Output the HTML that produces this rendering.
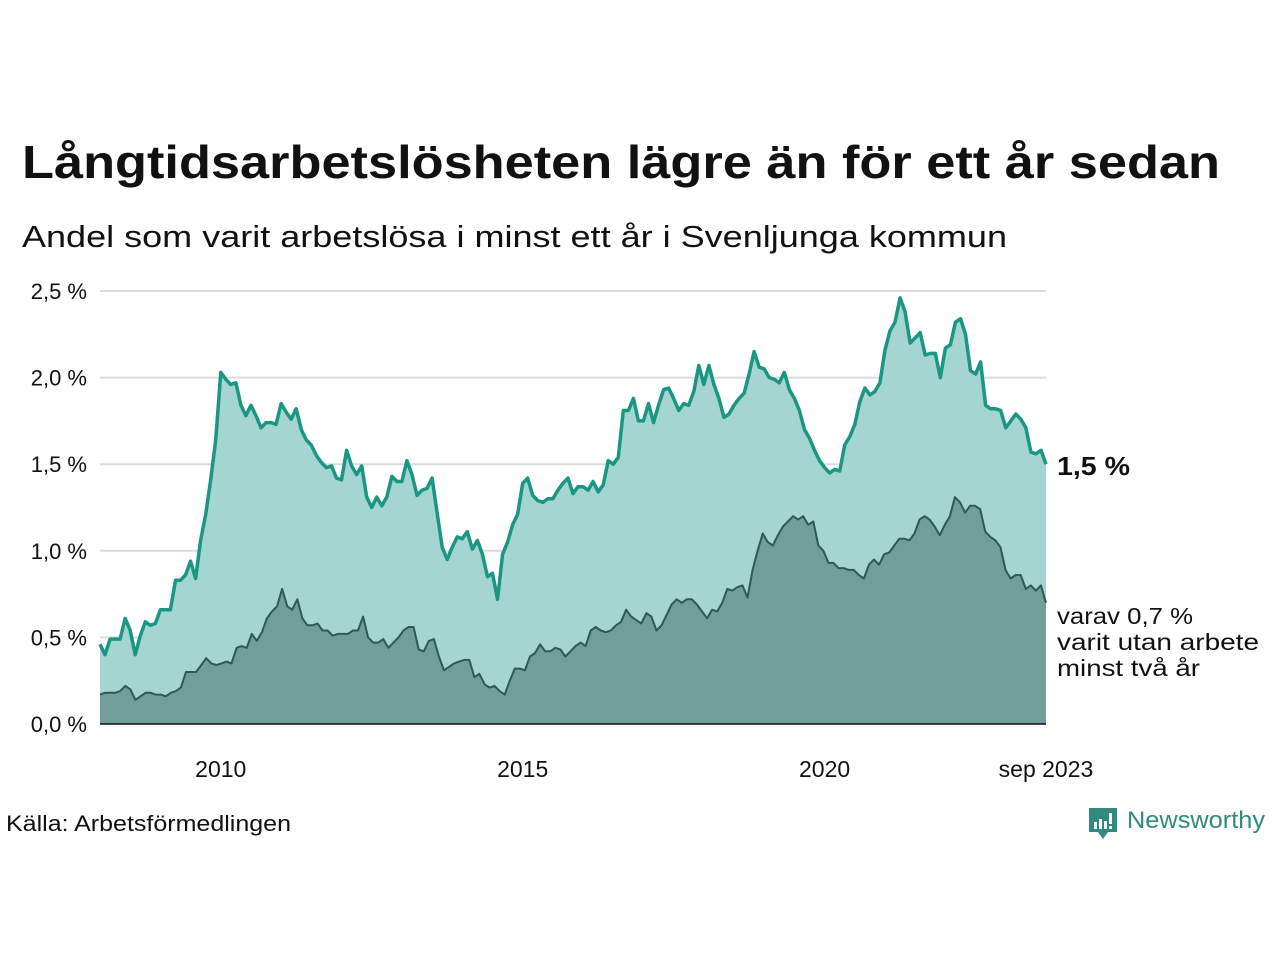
<!DOCTYPE html>
<html><head><meta charset="utf-8"><style>
body{margin:0;background:#fff;}
svg{display:block;font-family:"Liberation Sans","DejaVu Sans",sans-serif;}
</style></head><body>
<svg id="chart" width="1280" height="960" viewBox="0 0 1280 960">
<text x="22" y="178" font-size="46" font-weight="bold" fill="#111" textLength="1198" lengthAdjust="spacingAndGlyphs">Långtidsarbetslösheten lägre än för ett år sedan</text>
<text x="22" y="247" font-size="31" fill="#111" textLength="985" lengthAdjust="spacingAndGlyphs">Andel som varit arbetslösa i minst ett år i Svenljunga kommun</text>
<g id="grid"></g>
<g id="areas"></g>
<g id="yticks"></g>
<g id="xticks"></g>
<text x="1057" y="475" font-size="26" font-weight="bold" fill="#111" textLength="73" lengthAdjust="spacingAndGlyphs">1,5 %</text>
<text font-size="23" fill="#111"><tspan x="1057" y="624" textLength="136" lengthAdjust="spacingAndGlyphs">varav 0,7 %</tspan><tspan x="1057" y="650" textLength="202" lengthAdjust="spacingAndGlyphs">varit utan arbete</tspan><tspan x="1057" y="676" textLength="143" lengthAdjust="spacingAndGlyphs">minst två år</tspan></text>
<text x="6" y="831" font-size="22" fill="#111" textLength="285" lengthAdjust="spacingAndGlyphs">Källa: Arbetsförmedlingen</text>
<g>
<path d="M1089 808h28v24h-9l-5 7-5-7h-9z" fill="#2e8b7e"/>
<rect x="1094" y="822" width="3" height="7" fill="#fff"/><rect x="1099" y="819" width="3" height="10" fill="#fff"/><rect x="1104" y="821" width="3" height="8" fill="#fff"/><rect x="1109" y="813" width="3" height="11" fill="#fff"/><rect x="1109" y="826" width="3" height="3" fill="#fff"/>
<text x="1127" y="828" font-size="24" fill="#2e8b7e" textLength="138" lengthAdjust="spacingAndGlyphs">Newsworthy</text>
</g>
</svg>
<script>
const yTicks=[0,0.5,1.0,1.5,2.0,2.5];
const yTickLabels=["0,0 %","0,5 %","1,0 %","1,5 %","2,0 %","2,5 %"];
const xTickMonths=[24,84,144,188];
const xTickLabels=["2010","2015","2020","sep 2023"];
const longTerm=[0.46,0.40,0.49,0.49,0.49,0.61,0.54,0.40,0.51,0.59,0.57,0.58,0.66,0.66,0.66,0.83,0.83,0.86,0.94,0.84,1.06,1.21,1.41,1.64,2.03,1.99,1.96,1.97,1.84,1.78,1.84,1.78,1.71,1.74,1.74,1.73,1.85,1.80,1.76,1.82,1.70,1.64,1.61,1.55,1.51,1.48,1.49,1.42,1.41,1.58,1.49,1.44,1.49,1.31,1.25,1.31,1.26,1.31,1.43,1.40,1.40,1.52,1.44,1.32,1.35,1.36,1.42,1.22,1.02,0.95,1.02,1.08,1.07,1.11,1.01,1.06,0.98,0.85,0.87,0.72,0.98,1.05,1.15,1.21,1.39,1.42,1.32,1.29,1.28,1.30,1.30,1.35,1.39,1.42,1.33,1.37,1.37,1.35,1.40,1.34,1.38,1.52,1.50,1.54,1.81,1.81,1.88,1.75,1.75,1.85,1.74,1.84,1.93,1.94,1.88,1.81,1.85,1.84,1.92,2.07,1.96,2.07,1.96,1.88,1.77,1.79,1.84,1.88,1.91,2.02,2.15,2.06,2.05,2.00,1.99,1.97,2.03,1.93,1.88,1.81,1.70,1.65,1.58,1.52,1.48,1.45,1.47,1.46,1.61,1.66,1.73,1.86,1.94,1.90,1.92,1.97,2.16,2.27,2.32,2.46,2.38,2.20,2.23,2.26,2.13,2.14,2.14,2.00,2.17,2.19,2.32,2.34,2.25,2.04,2.02,2.09,1.84,1.82,1.82,1.81,1.71,1.75,1.79,1.76,1.71,1.57,1.56,1.58,1.50];
const veryLongTerm=[0.17,0.18,0.18,0.18,0.19,0.22,0.20,0.14,0.16,0.18,0.18,0.17,0.17,0.16,0.18,0.19,0.21,0.30,0.30,0.30,0.34,0.38,0.35,0.34,0.35,0.36,0.35,0.44,0.45,0.44,0.52,0.48,0.53,0.61,0.65,0.68,0.78,0.68,0.66,0.72,0.61,0.57,0.57,0.58,0.54,0.54,0.51,0.52,0.52,0.52,0.54,0.54,0.62,0.50,0.47,0.47,0.49,0.44,0.47,0.50,0.54,0.56,0.56,0.43,0.42,0.48,0.49,0.39,0.31,0.33,0.35,0.36,0.37,0.37,0.27,0.29,0.23,0.21,0.22,0.19,0.17,0.25,0.32,0.32,0.31,0.39,0.41,0.46,0.42,0.42,0.44,0.43,0.39,0.42,0.45,0.47,0.45,0.54,0.56,0.54,0.53,0.54,0.57,0.59,0.66,0.62,0.60,0.58,0.64,0.62,0.54,0.57,0.63,0.69,0.72,0.70,0.72,0.72,0.69,0.65,0.61,0.66,0.65,0.70,0.78,0.77,0.79,0.80,0.73,0.89,1.00,1.10,1.05,1.03,1.09,1.14,1.17,1.20,1.18,1.20,1.15,1.17,1.03,1.00,0.93,0.93,0.90,0.90,0.89,0.89,0.86,0.84,0.92,0.95,0.92,0.98,0.99,1.03,1.07,1.07,1.06,1.10,1.18,1.20,1.18,1.14,1.09,1.15,1.20,1.31,1.28,1.22,1.26,1.26,1.24,1.11,1.08,1.06,1.02,0.89,0.84,0.86,0.86,0.78,0.80,0.77,0.80,0.70];

const NS="http://www.w3.org/2000/svg";
const X0=100,X1=1046,Y0=724,Y1=291;
const totalMonths=188;
function yS(v){return Y0-(v/2.5)*(Y0-Y1);}
function xM(m){return X0+(m/totalMonths)*(X1-X0);}
function xI(i,n){return X0+(i/(n-1))*(X1-X0);}
function mk(tag,attrs,parent){const e=document.createElementNS(NS,tag);for(const k in attrs)e.setAttribute(k,attrs[k]);parent.appendChild(e);return e;}

const grid=document.getElementById('grid'),yt=document.getElementById('yticks'),xt=document.getElementById('xticks'),areas=document.getElementById('areas');
yTicks.forEach((v,i)=>{
  if(v>0){const l=mk('line',{x1:X0,x2:X1,y1:yS(v),y2:yS(v),stroke:'#dcdcdc','stroke-width':2},grid);
  
  }
  const t=mk('text',{x:87,y:yS(v)+8,'font-size':22,fill:'#111','text-anchor':'end'},yt);
  t.textContent=yTickLabels[i];
  
  
});
xTickMonths.forEach((m,i)=>{
  const t=mk('text',{x:xM(m),y:777,'font-size':23,fill:'#111','text-anchor':'middle'},xt);
  t.textContent=xTickLabels[i];
  
  
});
function linePts(arr){return arr.map((v,i)=>xI(i,arr.length).toFixed(1)+','+yS(v).toFixed(1));}
function drawSeries(arr,fill,stroke,sw,name){
  const pts=linePts(arr);
  const a=mk('path',{d:'M'+X0+','+Y0+' L'+pts.join(' L')+' L'+X1+','+Y0+' Z',fill:fill},areas);
  
  
  const l=mk('path',{d:'M'+pts.join(' L'),fill:'none',stroke:stroke,'stroke-width':sw,'stroke-linejoin':'round'},areas);
  
  
}
drawSeries(longTerm,'#a4d5d0','#1a9683',3.5,'long-term-unemployment');
drawSeries(veryLongTerm,'#709e98','#2e5954',2,'two-year-unemployment');
const ax=mk('line',{x1:X0,x2:X1,y1:Y0,y2:Y0,stroke:'#111','stroke-width':1.5},areas);


</script>
</body></html>
